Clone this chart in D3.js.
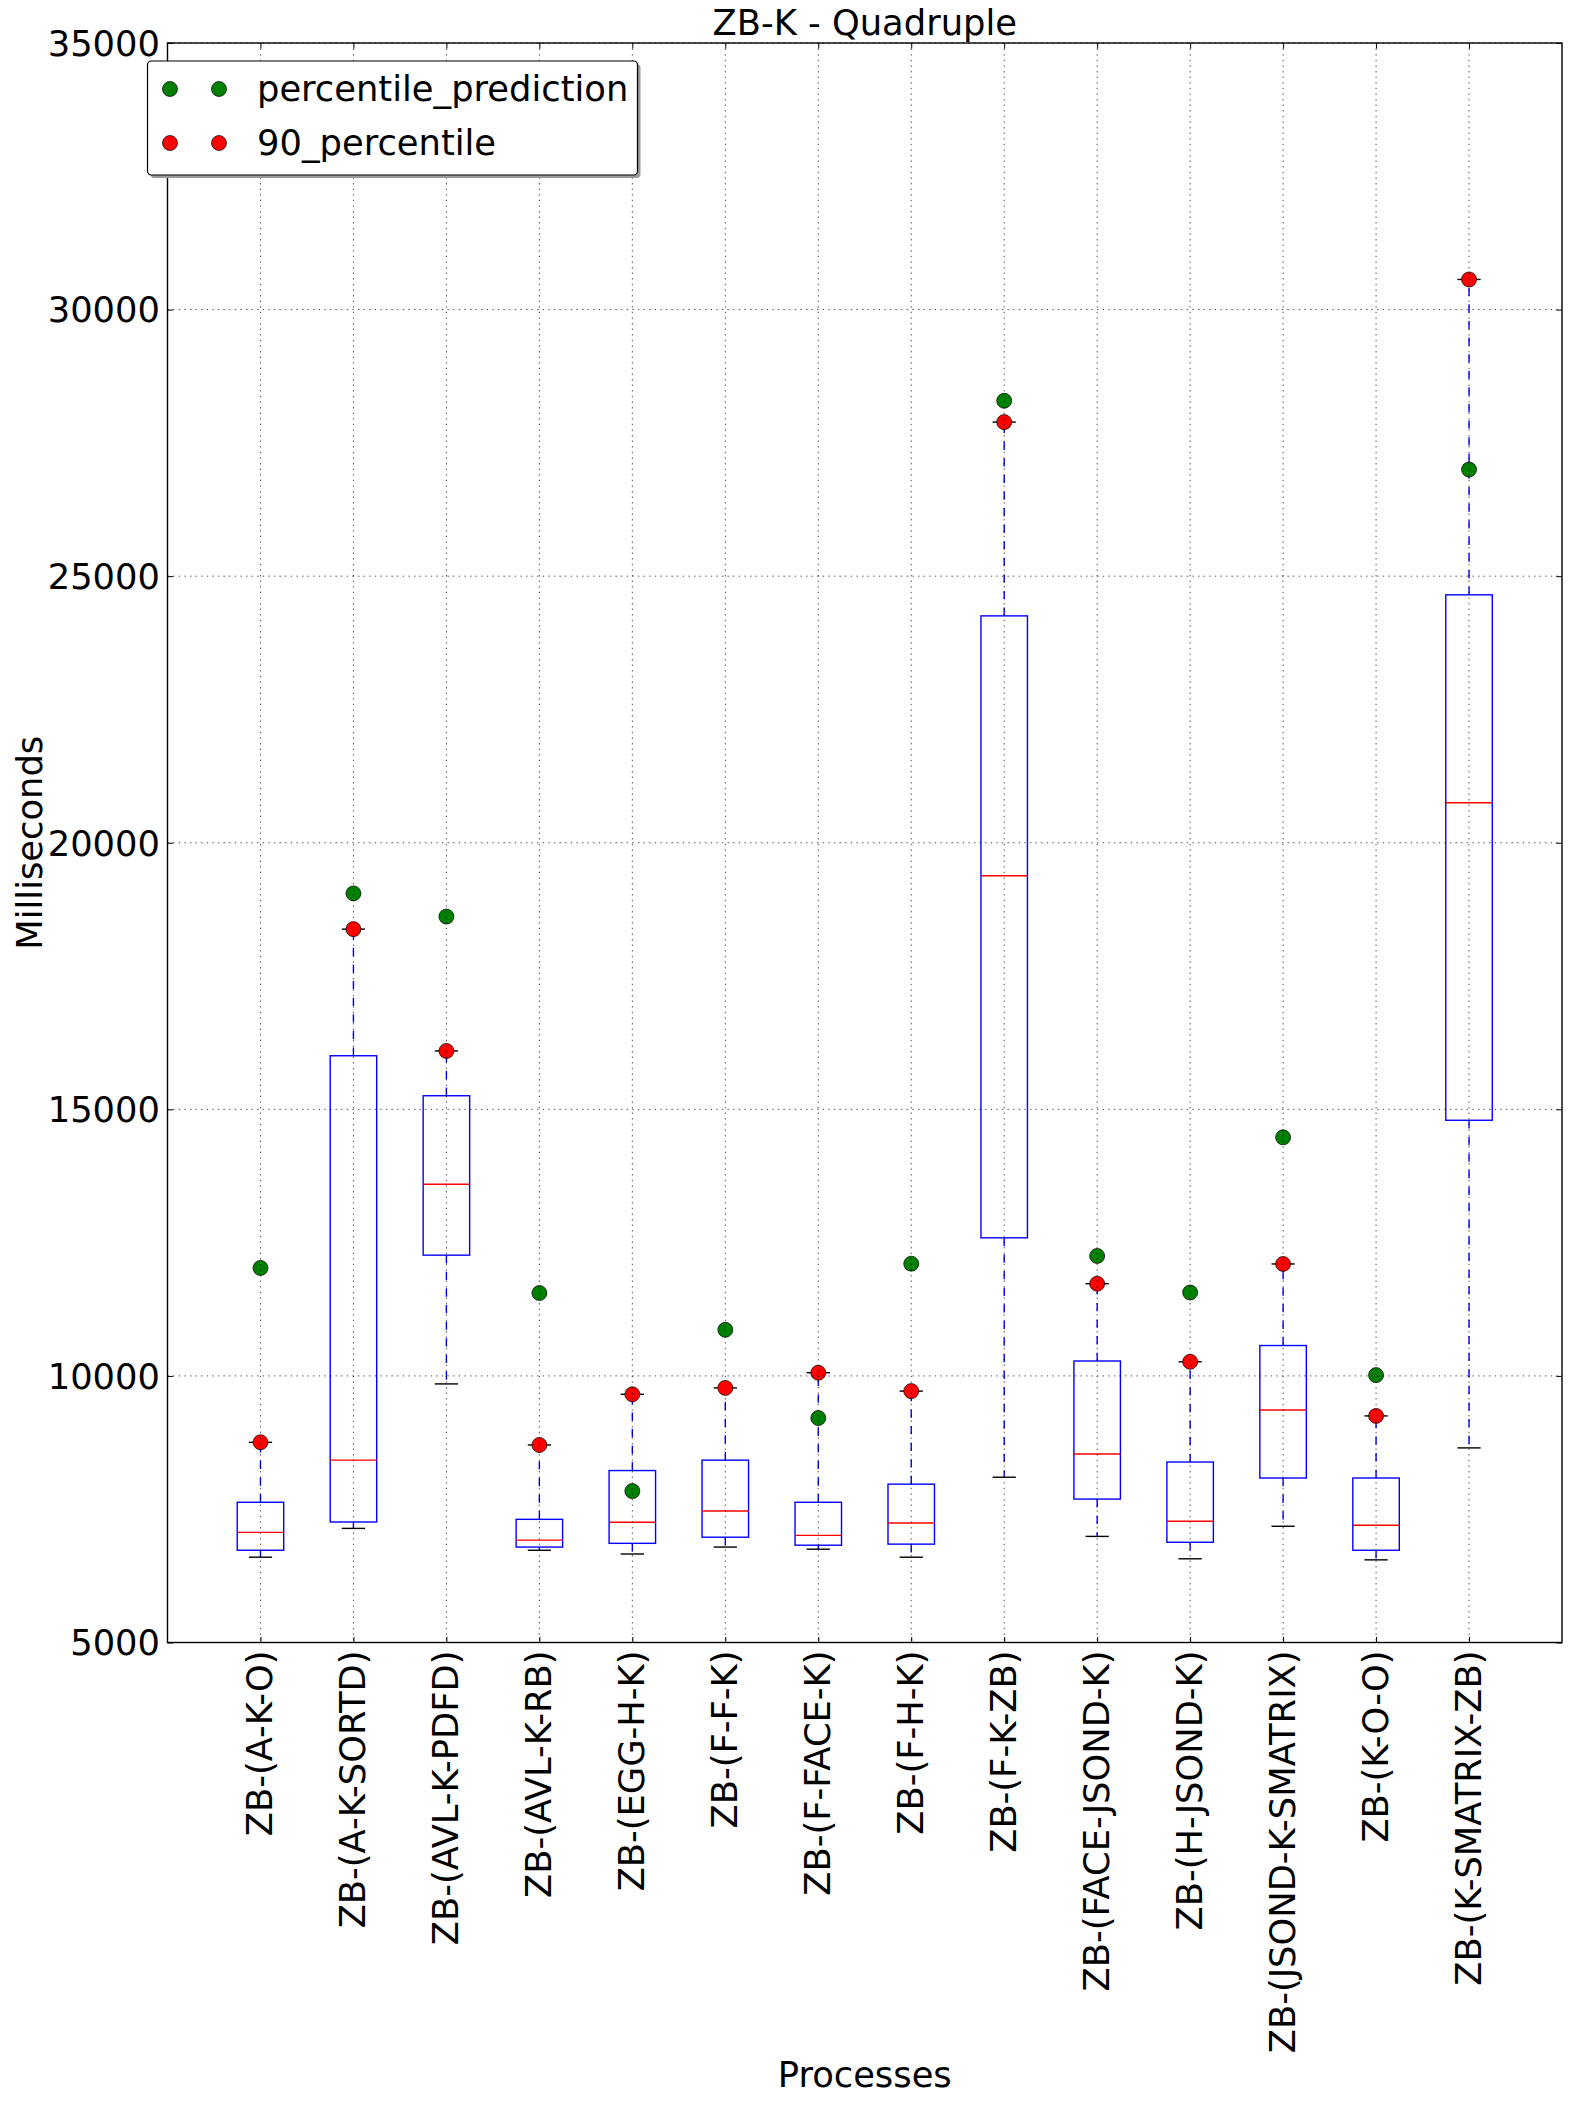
<!DOCTYPE html>
<html>
<head>
<meta charset="utf-8">
<script src="https://cdn.jsdelivr.net/npm/d3@7"></script>
<style>
  html, body { margin: 0; padding: 0; background: #ffffff; }
  svg { display: block; }
  text { font-family: "DejaVu Sans", sans-serif; fill: #000; }
</style>
</head>
<body>
<script>
// ---------------- data ----------------
const categories = [
  "ZB-(A-K-O)", "ZB-(A-K-SORTD)", "ZB-(AVL-K-PDFD)", "ZB-(AVL-K-RB)",
  "ZB-(EGG-H-K)", "ZB-(F-F-K)", "ZB-(F-FACE-K)", "ZB-(F-H-K)",
  "ZB-(F-K-ZB)", "ZB-(FACE-JSOND-K)", "ZB-(H-JSOND-K)", "ZB-(JSOND-K-SMATRIX)",
  "ZB-(K-O-O)", "ZB-(K-SMATRIX-ZB)"
];
const whiskerLow  = [6600, 7140, 9850, 6730, 6660, 6790, 6750, 6600, 8100, 6990, 6570, 7180, 6550, 8650];
const q1          = [6730, 7260, 12265, 6790, 6860, 6975, 6825, 6845, 12590, 7690, 6880, 8085, 6730, 14795];
const median      = [7065, 8420, 13595, 6920, 7255, 7465, 7010, 7240, 19380, 8535, 7275, 9360, 7200, 20750];
const q3          = [7630, 16005, 15255, 7310, 8225, 8420, 7630, 7970, 24255, 10280, 8385, 10570, 8085, 24650];
const whiskerHigh = [8755, 18380, 16095, 8705, 9655, 9775, 10060, 9715, 27890, 11730, 10265, 12100, 9250, 30565];
const percentile90 = [8755, 18380, 16095, 8705, 9655, 9775, 10060, 9715, 27890, 11730, 10265, 12100, 9250, 30565];
const prediction  = [12025, 19050, 18615, 11555, 7840, 10865, 9210, 12105, 28290, 12250, 11565, 14475, 10015, 27000];
const yTicks = [5000, 10000, 15000, 20000, 25000, 30000, 35000];
const legendLabels = ["percentile_prediction", "90_percentile"];
const titleText = "ZB-K - Quadruple";
const xLabel = "Processes";
const yLabel = "Milliseconds";

// ---------------- layout ----------------
const W = 1571, H = 2102;
const L = 167.5, R = 1562, T = 43, B = 1642.5;
const FS = 35.3;

const svg = d3.select("body").append("svg").attr("width", W).attr("height", H);

const x = d3.scaleLinear().domain([0, categories.length + 1]).range([L, R]);
const y = d3.scaleLinear().domain([5000, 35000]).range([B, T]);
const boxW = x(0.5) - x(0);
const capW = boxW / 2;

const idx = categories.map((c, i) => i);
const px = i => x(i + 1);
const MR = 7.5;

const plot = svg.append("g");

// boxes
plot.selectAll("rect.box").data(idx).enter().append("rect")
  .attr("x", i => px(i) - boxW / 2)
  .attr("y", i => y(q3[i]))
  .attr("width", boxW)
  .attr("height", i => y(q1[i]) - y(q3[i]))
  .attr("fill", "none").attr("stroke", "#0000ff").attr("stroke-width", 1.4);

// whiskers
plot.selectAll("line.wu").data(idx).enter().append("line")
  .attr("x1", px).attr("x2", px)
  .attr("y1", i => y(q3[i])).attr("y2", i => y(whiskerHigh[i]))
  .attr("stroke", "#0000ff").attr("stroke-width", 1.4).attr("stroke-dasharray", "8.3,8.3");
plot.selectAll("line.wl").data(idx).enter().append("line")
  .attr("x1", px).attr("x2", px)
  .attr("y1", i => y(q1[i])).attr("y2", i => y(whiskerLow[i]))
  .attr("stroke", "#0000ff").attr("stroke-width", 1.4).attr("stroke-dasharray", "8.3,8.3");

// caps
[whiskerHigh, whiskerLow].forEach(arr => {
  plot.selectAll(null).data(idx).enter().append("line")
    .attr("x1", i => px(i) - capW / 2).attr("x2", i => px(i) + capW / 2)
    .attr("y1", i => y(arr[i])).attr("y2", i => y(arr[i]))
    .attr("stroke", "#000").attr("stroke-width", 1.4);
});

// medians
plot.selectAll("line.med").data(idx).enter().append("line")
  .attr("x1", i => px(i) - boxW / 2).attr("x2", i => px(i) + boxW / 2)
  .attr("y1", i => y(median[i])).attr("y2", i => y(median[i]))
  .attr("stroke", "#ff0000").attr("stroke-width", 1.4);

// points
plot.selectAll("circle.pred").data(idx).enter().append("circle")
  .attr("cx", px).attr("cy", i => y(prediction[i])).attr("r", MR)
  .attr("fill", "#008000").attr("stroke", "#000").attr("stroke-width", 0.7);
plot.selectAll("circle.p90").data(idx).enter().append("circle")
  .attr("cx", px).attr("cy", i => y(percentile90[i])).attr("r", MR)
  .attr("fill", "#ff0000").attr("stroke", "#000").attr("stroke-width", 0.7);

// grid (drawn above, as in the classic style)
const grid = svg.append("g");
grid.selectAll("line.hg").data(yTicks).enter().append("line")
  .attr("x1", L).attr("x2", R).attr("y1", d => y(d)).attr("y2", d => y(d))
  .attr("stroke", "#000").attr("stroke-width", 0.7).attr("stroke-dasharray", "1.4,4.2");
grid.selectAll("line.vg").data(idx).enter().append("line")
  .attr("x1", px).attr("x2", px).attr("y1", T).attr("y2", B)
  .attr("stroke", "#000").attr("stroke-width", 0.7).attr("stroke-dasharray", "1.4,4.2");

// axes
const tickLen = 5.6;
const yAxisL = d3.axisLeft(y).tickValues(yTicks).tickSize(-tickLen).tickPadding(7).tickFormat(d3.format("d"));
const yAxisR = d3.axisRight(y).tickValues(yTicks).tickSize(-tickLen).tickFormat("");
const xAxisB = d3.axisBottom(x).tickValues(idx.map(i => i + 1)).tickSize(-tickLen).tickFormat("");
const xAxisT = d3.axisTop(x).tickValues(idx.map(i => i + 1)).tickSize(-tickLen).tickFormat("");

function styleAxis(g) {
  g.select(".domain").remove();
  g.selectAll(".tick line").attr("stroke", "#000").attr("stroke-width", 1.0);
}
const gyl = svg.append("g").attr("transform", `translate(${L},0)`).call(yAxisL).call(styleAxis);
gyl.selectAll(".tick text").attr("font-size", FS).attr("font-family", "DejaVu Sans").attr("fill", "#000")
  .attr("dy", "0.35em").attr("x", -7.5);
svg.append("g").attr("transform", `translate(${R},0)`).call(yAxisR).call(styleAxis);
svg.append("g").attr("transform", `translate(0,${B})`).call(xAxisB).call(styleAxis);
svg.append("g").attr("transform", `translate(0,${T})`).call(xAxisT).call(styleAxis);

// x tick labels (vertical)
svg.append("g").selectAll("text.xl").data(idx).enter().append("text")
  .attr("transform", i => `translate(${px(i) + 12},${B + 8}) rotate(-90)`)
  .attr("text-anchor", "end")
  .attr("font-size", FS)
  .text(i => categories[i]);

// frame
svg.append("rect").attr("x", L).attr("y", T).attr("width", R - L).attr("height", B - T)
  .attr("fill", "none").attr("stroke", "#000").attr("stroke-width", 1.4);

// title & axis labels
svg.append("text").attr("x", (L + R) / 2).attr("y", 35).attr("text-anchor", "middle")
  .attr("font-size", FS).text(titleText);
svg.append("text").attr("x", (L + R) / 2).attr("y", 2087).attr("text-anchor", "middle")
  .attr("font-size", FS).text(xLabel);
svg.append("text").attr("transform", `translate(42,${(T + B) / 2}) rotate(-90)`)
  .attr("text-anchor", "middle").attr("font-size", FS).text(yLabel);

// legend
const lg = svg.append("g");
const lx = 147.5, ly = 61, lw = 490, lh = 114;
lg.append("rect").attr("x", lx + 3).attr("y", ly + 3).attr("width", lw).attr("height", lh)
  .attr("rx", 4).attr("fill", "#9a9a9a");
lg.append("rect").attr("x", lx).attr("y", ly).attr("width", lw).attr("height", lh)
  .attr("rx", 4).attr("fill", "#fff").attr("stroke", "#000").attr("stroke-width", 1.2);
const legColors = ["#008000", "#ff0000"];
const legY = [89, 143];
legendLabels.forEach((lab, k) => {
  [170, 219].forEach(cx => {
    lg.append("circle").attr("cx", cx).attr("cy", legY[k]).attr("r", MR)
      .attr("fill", legColors[k]).attr("stroke", "#000").attr("stroke-width", 0.7);
  });
  lg.append("text").attr("x", 257).attr("y", legY[k] + 12).attr("font-size", FS).text(lab);
});
</script>
</body>
</html>
